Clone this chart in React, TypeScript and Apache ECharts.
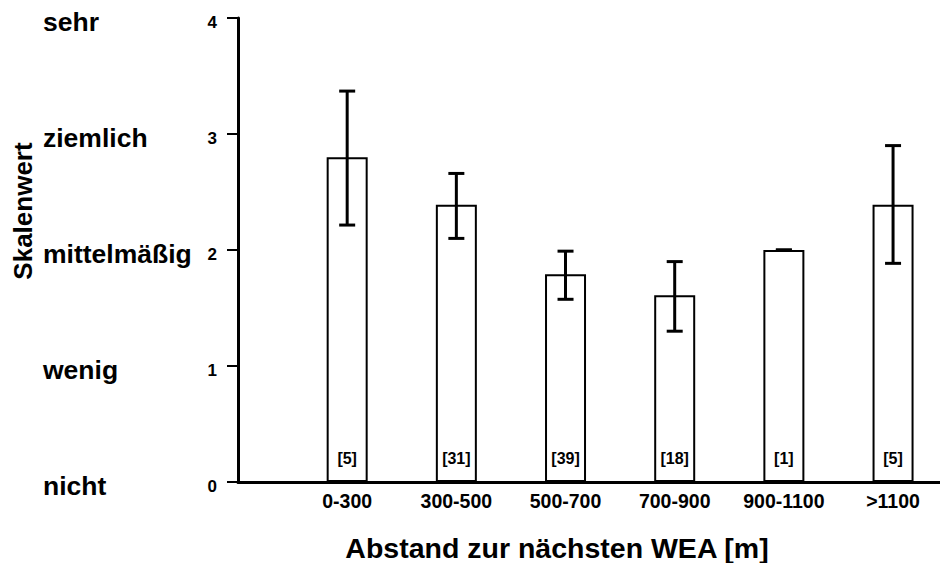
import React, { useEffect, useRef } from "react";
import * as echarts from "echarts";

const categories = ["0-300", "300-500", "500-700", "700-900", "900-1100", ">1100"];
const means = [2.8, 2.39, 1.79, 1.61, 2.0, 2.39];
const lows = [2.215, 2.1, 1.575, 1.3, 2.0, 1.885];
const highs = [3.37, 2.66, 1.99, 1.9, 2.0, 2.9];
const counts = [5, 31, 39, 18, 1, 5];
const scaleLabels = ["nicht", "wenig", "mittelmäßig", "ziemlich", "sehr"];
const xTitle = "Abstand zur nächsten WEA [m]";
const yTitle = "Skalenwert";

const FONT = "'Liberation Sans', Arial, Helvetica, sans-serif";

export default function App() {
  const ref = useRef<HTMLDivElement>(null);
  useEffect(() => {
    if (!ref.current) return;
    const chart = echarts.init(ref.current, undefined, { renderer: "svg" });
    const barData = means.map((v, i) => [i + 1, v]);
    const errData = means.map((_, i) => [i + 1, lows[i], highs[i]]);
    chart.setOption({
      animation: false,
      backgroundColor: "#ffffff",
      textStyle: { fontFamily: FONT },
      grid: { left: 238, right: 0, top: 18, bottom: 81, containLabel: false },
      xAxis: {
        type: "value",
        min: 0,
        max: 6.43,
        interval: 1,
        splitLine: { show: false },
        axisTick: { show: false },
        axisLine: { show: true, lineStyle: { color: "#000", width: 3 } },
        axisLabel: {
          margin: 9,
          color: "#000",
          fontFamily: FONT,
          fontWeight: "bold",
          fontSize: 19.5,
          showMaxLabel: false,
          formatter: (v: number) =>
            Number.isInteger(v) && v >= 1 && v <= categories.length ? categories[v - 1] : "",
        },
      },
      yAxis: [
        {
          type: "value",
          min: 0,
          max: 4,
          interval: 1,
          splitLine: { show: false },
          axisLine: { show: true, onZero: false, lineStyle: { color: "#000", width: 3 } },
          axisTick: { show: true, length: 11, lineStyle: { color: "#000", width: 2 } },
          axisLabel: {
            margin: 21,
            color: "#000",
            fontFamily: FONT,
            fontWeight: "bold",
            fontSize: 17,
            formatter: (v: number) => "{t|" + v + "}",
            rich: {
              t: {
                padding: [8, 0, 0, 0],
                color: "#000",
                fontFamily: FONT,
                fontWeight: "bold",
                fontSize: 17,
              },
            },
          },
        },
        {
          type: "value",
          min: 0,
          max: 4,
          interval: 1,
          position: "left",
          splitLine: { show: false },
          axisLine: { show: false },
          axisTick: { show: false },
          axisLabel: {
            margin: 195,
            align: "left",
            color: "#000",
            fontFamily: FONT,
            fontWeight: "bold",
            fontSize: 26.5,
            formatter: (v: number) => (scaleLabels[v] ? "{t|" + scaleLabels[v] + "}" : ""),
            rich: {
              t: {
                padding: [8, 0, 0, 0],
                color: "#000",
                fontFamily: FONT,
                fontWeight: "bold",
                fontSize: 26.5,
              },
            },
          },
        },
      ],
      graphic: [
        {
          type: "text",
          x: 557,
          y: 548,
          style: {
            text: xTitle,
            textAlign: "center",
            textVerticalAlign: "middle",
            fontFamily: FONT,
            fontWeight: "bold",
            fontSize: 28.5,
            fill: "#000",
          },
        },
        {
          type: "text",
          x: 23,
          y: 211,
          rotation: Math.PI / 2,
          style: {
            text: yTitle,
            textAlign: "center",
            textVerticalAlign: "middle",
            fontFamily: FONT,
            fontWeight: "bold",
            fontSize: 26,
            fill: "#000",
          },
        },
      ],
      series: [
        {
          type: "bar",
          yAxisIndex: 0,
          barWidth: 41,
          data: barData,
          itemStyle: { color: "#fff", borderColor: "#000", borderWidth: 2 },
          label: {
            show: true,
            position: "insideBottom",
            distance: 16,
            color: "#000",
            fontFamily: FONT,
            fontWeight: "bold",
            fontSize: 16,
            formatter: (p: any) => "[" + counts[p.dataIndex] + "]",
          },
        },
        {
          type: "custom",
          yAxisIndex: 0,
          data: errData,
          encode: { x: 0, y: [1, 2] },
          z: 10,
          renderItem: (params: any, api: any) => {
            const x = api.value(0);
            const lo = api.coord([x, api.value(1)]);
            const hi = api.coord([x, api.value(2)]);
            const cap = 8;
            const style = { stroke: "#000", lineWidth: 3 };
            return {
              type: "group",
              children: [
                { type: "line", shape: { x1: lo[0], y1: lo[1], x2: hi[0], y2: hi[1] }, style },
                { type: "line", shape: { x1: hi[0] - cap, y1: hi[1], x2: hi[0] + cap, y2: hi[1] }, style },
                { type: "line", shape: { x1: lo[0] - cap, y1: lo[1], x2: lo[0] + cap, y2: lo[1] }, style },
              ],
            };
          },
        },
      ],
    });
    return () => chart.dispose();
  }, []);
  return (
    <div
      ref={ref}
      style={{ position: "fixed", left: 0, top: 0, width: 940, height: 563, background: "#fff" }}
    />
  );
}
